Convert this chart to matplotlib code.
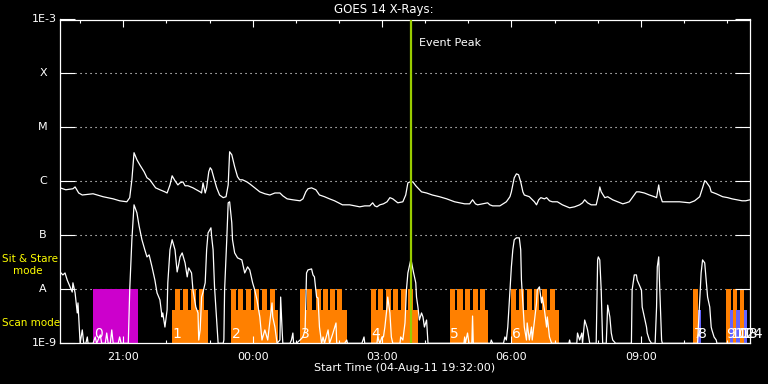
import matplotlib
matplotlib.use("Agg")
import matplotlib.pyplot as plt
from matplotlib.transforms import blended_transform_factory

# ---------------- data (time = minutes after 04-Aug-11 19:32) ----------------
long_t = [0, 8, 18, 21, 26, 31, 46, 60, 74, 83, 93, 97, 100, 103, 107, 111, 117, 121, 125, 129,
          133, 139, 146, 149, 153, 156, 160, 164, 167, 171, 174, 178, 185, 195, 197, 199, 202, 204,
          207, 209, 211, 214, 218, 222, 227, 231, 234, 236, 239, 243, 247, 250, 254, 260, 264, 271,
          278, 285, 292, 299, 306, 310, 316, 324, 334, 338, 342, 345, 350, 356, 361, 368, 375, 382,
          393, 403, 417, 424, 431, 435, 438, 441, 445, 450, 455, 459, 463, 470, 477, 481, 484, 487,
          491, 495, 503, 510, 518, 528, 538, 549, 556, 563, 570, 574, 578, 581, 588, 595, 598, 602,
          612, 621, 626, 628, 632, 635, 638, 641, 644, 646, 653, 660, 663, 666, 669, 674, 677, 681,
          685, 692, 699, 709, 716, 723, 727, 730, 734, 739, 746, 749, 751, 753, 758, 762, 769, 776,
          783, 788, 792, 798, 802, 806, 813, 820, 827, 830, 833, 835, 838, 848, 862, 876, 883, 890,
          894, 897, 899, 904, 906, 913, 922, 929, 935, 942, 949, 954, 960]
long_flux = [7.6e-7, 7.0e-7, 7.3e-7, 7.9e-7, 6.1e-7, 5.6e-7, 5.9e-7, 5.2e-7, 4.75e-7, 4.37e-7,
             4.19e-7, 5.0e-7, 1.07e-6, 3.4e-6, 2.52e-6, 2.03e-6, 1.51e-6, 1.17e-6, 1.07e-6, 9.0e-7,
             7.6e-7, 7.0e-7, 6.4e-7, 6.1e-7, 8.6e-7, 1.27e-6, 1.03e-6, 8.6e-7, 9.4e-7, 9.8e-7,
             8.3e-7, 8.3e-7, 7.6e-7, 6.4e-7, 6.1e-7, 9.4e-7, 6.1e-7, 7.6e-7, 1.51e-6, 1.79e-6,
             1.64e-6, 1.17e-6, 7.6e-7, 5.6e-7, 5.0e-7, 5.2e-7, 8.6e-7, 3.54e-6, 3.12e-6, 1.87e-6,
             1.22e-6, 1.07e-6, 1.07e-6, 9.8e-7, 9.0e-7, 7.6e-7, 6.4e-7, 5.9e-7, 5.6e-7, 6.1e-7,
             6.1e-7, 5.4e-7, 4.75e-7, 4.56e-7, 4.37e-7, 4.75e-7, 6.4e-7, 7.3e-7, 7.6e-7, 7.0e-7,
             5.6e-7, 5.2e-7, 4.75e-7, 4.37e-7, 3.68e-7, 3.68e-7, 3.38e-7, 3.52e-7, 3.52e-7, 4.01e-7,
             3.52e-7, 3.38e-7, 3.68e-7, 3.84e-7, 4.19e-7, 5.0e-7, 4.75e-7, 4.01e-7, 4.19e-7, 5.6e-7,
             9.4e-7, 9.8e-7, 9.8e-7, 8.3e-7, 6.4e-7, 6.1e-7, 5.6e-7, 5.2e-7, 4.75e-7, 4.19e-7,
             4.01e-7, 3.84e-7, 3.84e-7, 4.56e-7, 3.84e-7, 3.68e-7, 3.84e-7, 4.01e-7, 3.68e-7, 3.52e-7,
             3.52e-7, 4.19e-7, 5.2e-7, 6.4e-7, 1.17e-6, 1.38e-6, 1.33e-6, 9.8e-7, 6.4e-7, 5.6e-7,
             5.2e-7, 4.19e-7, 3.68e-7, 4.56e-7, 5.0e-7, 4.75e-7, 5.0e-7, 4.37e-7, 4.19e-7, 4.19e-7,
             3.68e-7, 3.24e-7, 3.38e-7, 3.68e-7, 4.01e-7, 4.56e-7, 4.01e-7, 3.68e-7, 3.68e-7, 5.4e-7,
             7.9e-7, 6.4e-7, 5.0e-7, 5.2e-7, 4.56e-7, 4.19e-7, 3.84e-7, 4.01e-7, 4.19e-7, 5.4e-7,
             6.4e-7, 6.4e-7, 6.1e-7, 5.6e-7, 5.2e-7, 5.0e-7, 8.6e-7, 5.6e-7, 4.19e-7, 4.19e-7,
             4.19e-7, 4.01e-7, 4.37e-7, 5.2e-7, 7.6e-7, 1.03e-6, 9.8e-7, 7.9e-7, 6.4e-7, 5.9e-7,
             5.2e-7, 5.0e-7, 4.75e-7, 4.56e-7, 4.37e-7, 4.37e-7, 4.56e-7]

short_t = [0, 4, 7, 10, 14, 17, 18, 21, 24, 25, 28, 31, 33, 36, 38, 39, 46, 49, 51, 56, 58, 63, 65,
           67, 70, 72, 74, 81, 83, 85, 95, 97, 100, 103, 107, 110, 114, 118, 121, 124, 128, 132,
           135, 139, 142, 143, 146, 149, 150, 153, 156, 160, 163, 165, 167, 170, 174, 177, 179, 183,
           185, 189, 192, 193, 195, 197, 199, 202, 204, 206, 210, 211, 213, 215, 218, 220, 227, 228,
           229, 232, 234, 236, 239, 240, 243, 247, 253, 257, 261, 264, 268, 271, 274, 278, 281, 285,
           289, 295, 296, 299, 302, 306, 307, 309, 310, 320, 322, 324, 325, 329, 334, 338, 341, 343,
           345, 350, 352, 354, 357, 359, 361, 364, 366, 368, 373, 375, 379, 384, 385, 396, 399, 400,
           420, 423, 424, 441, 442, 445, 448, 450, 452, 455, 456, 459, 461, 463, 473, 474, 477, 480,
           482, 484, 488, 489, 492, 495, 496, 498, 500, 503, 505, 507, 510, 512, 562, 563, 564, 567,
           569, 573, 574, 575, 599, 600, 602, 617, 619, 621, 623, 626, 628, 630, 632, 635, 639, 641,
           642, 644, 646, 649, 650, 653, 656, 657, 663, 664, 667, 670, 671, 674, 677, 678, 681, 684,
           708, 709, 710, 719, 720, 723, 726, 727, 730, 733, 734, 737, 746, 748, 749, 751, 753, 755,
           760, 762, 765, 767, 769, 773, 795, 796, 799, 802, 803, 809, 810, 813, 816, 817, 820, 823,
           828, 830, 831, 833, 834, 837, 838, 887, 890, 892, 894, 897, 899, 901, 904, 906, 907, 910,
           913, 914, 945]
short_flux = [2.10e-8, 1.85e-8, 2.01e-8, 1.49e-8, 1.11e-8, 8.9e-9, 1.32e-8, 8.6e-9, 3.65e-9, 5.6e-9,
              1e-9, 1.77e-9, 1e-9, 1e-9, 1.31e-9, 1e-9, 1e-9, 1.31e-9, 1e-9, 1.43e-9, 1e-9, 1e-9,
              1.55e-9, 1e-9, 1e-9, 1.77e-9, 1e-9, 1e-9, 1.31e-9, 1e-9, 1e-9, 9.7e-9, 8.3e-8, 3.68e-7,
              2.62e-7, 1.50e-7, 8.3e-8, 5.4e-8, 3.99e-8, 4.35e-8, 2.61e-8, 1.49e-8, 8.6e-9, 6.4e-9,
              3.08e-9, 3.65e-9, 2.0e-9, 4.15e-9, 1.32e-8, 5.4e-8, 8.3e-8, 5.4e-8, 2.10e-8, 2.84e-8,
              3.99e-8, 4.73e-8, 3.09e-8, 1.70e-8, 2.49e-8, 2.01e-8, 9.7e-9, 4.7e-9, 3.65e-9, 1.15e-9,
              1.77e-9, 7.2e-9, 8.9e-9, 1.32e-8, 5.4e-8, 1.11e-7, 1.38e-7, 9.4e-8, 5.4e-8, 1.11e-8,
              2.70e-9, 1e-9, 1e-9, 1.15e-9, 9.7e-9, 8.3e-8, 4.01e-7, 4.19e-7, 1.71e-7, 8.3e-8, 4.73e-8,
              3.83e-8, 3.51e-8, 2.01e-8, 2.61e-8, 2.29e-8, 1.32e-8, 9.7e-9, 6.4e-9, 3.08e-9, 1.15e-9,
              1.77e-9, 1.15e-9, 5.6e-9, 3.08e-9, 2.0e-9, 1e-9, 1.15e-9, 7.2e-9, 1.77e-9, 1e-9, 1e-9,
              1.15e-9, 1.55e-9, 1e-9, 1e-9, 1.15e-9, 1.31e-9, 1.77e-9, 2.01e-8, 2.29e-8, 2.39e-8,
              1.85e-8, 1.70e-8, 7.2e-9, 6.9e-9, 2.0e-9, 1e-9, 1.31e-9, 1e-9, 1.77e-9, 1e-9, 1.43e-9,
              2.38e-9, 1e-9, 1e-9, 1.15e-9, 1e-9, 1e-9, 1.31e-9, 1e-9, 1e-9, 1.31e-9, 1e-9, 1.31e-9,
              1.31e-9, 2.0e-9, 4.7e-9, 7.2e-9, 3.65e-9, 1.31e-9, 1e-9, 1e-9, 1.31e-9, 1.15e-9,
              2.38e-9, 9.7e-9, 2.01e-8, 3.51e-8, 3.22e-8, 2.01e-8, 1.32e-8, 7.2e-9, 4.7e-9, 2.70e-9,
              3.65e-9, 3.08e-9, 2.0e-9, 2.70e-9, 1e-9, 1e-9, 1.31e-9, 1e-9, 1.55e-9, 1e-9, 1e-9,
              3.2e-9, 1e-9, 1e-9, 1.15e-9, 1e-9, 1e-9, 1.31e-9, 1.15e-9, 2.0e-9, 9.7e-9, 2.61e-8,
              5.4e-8, 8.3e-8, 9.0e-8, 9.0e-8, 5.4e-8, 1.49e-8, 5.6e-9, 2.0e-9, 1.15e-9, 2.38e-9,
              1.15e-9, 2.0e-9, 1.15e-9, 5.6e-9, 9.7e-9, 1.11e-8, 5.6e-9, 7.2e-9, 4.15e-9, 2.0e-9,
              3.08e-9, 1.31e-9, 1e-9, 1e-9, 1.15e-9, 1e-9, 1e-9, 1.55e-9, 1.15e-9, 1.55e-9, 1e-9,
              2.70e-9, 2.0e-9, 1.77e-9, 1e-9, 1e-9, 3.51e-8, 3.99e-8, 3.51e-8, 9.7e-9, 1e-9, 1e-9,
              5.1e-9, 3.08e-9, 1.55e-9, 1.15e-9, 1e-9, 1e-9, 9.7e-9, 1.85e-8, 1.85e-8, 1.49e-8,
              9.7e-9, 4.7e-9, 3.08e-9, 2.0e-9, 1.55e-9, 1.15e-9, 1e-9, 1e-9, 4.7e-9, 2.61e-8,
              3.99e-8, 1.49e-8, 1.15e-9, 1e-9, 1e-9, 6.4e-9, 2.01e-8, 3.51e-8, 3.09e-8, 1.49e-8,
              7.2e-9, 4.7e-9, 2.0e-9, 1.77e-9, 1.31e-9, 1.15e-9, 1e-9, 1e-9]

# Sit & stare observation (magenta)
stare_ids = ["0"]
stare_start = [46]
stare_end = [108]

# Scan-mode blocks (orange): block extent and the start of each tall raster
scan_ids = ["1", "2", "3", "4", "5", "6"]
scan_start = [156, 238, 334, 432, 542, 628]
scan_end = [206, 303, 399, 498, 596, 694]
scan_teeth = [[160, 171, 182, 193],
              [238, 248, 259, 270, 281, 292],
              [334, 344, 356, 366, 376, 386],
              [432, 442, 453, 463, 474, 484],
              [542, 553, 563, 574, 584],
              [628, 639, 650, 660, 671, 682]]
tooth_len = 7

# Later short observations
obs_ids = ["7", "8", "9", "10", "11", "12", "13", "14"]
obs_start = [881, 887, 926, 932, 937, 941, 946, 952]
obs_end = [887, 892, 933, 936, 942, 946, 952, 956]
obs_kind = ["tall", "short", "tall", "short", "tall", "short", "tall", "short"]

level_low = 1e-9
level_short = 4.15e-9
level_tall = 1e-8

event_peak = 488  # 03:40
tick_pos = [88, 268, 448, 628, 808]
tick_lab = ["21:00", "00:00", "03:00", "06:00", "09:00"]
minor_pos = [28 + 60 * k for k in range(16)]
decades = [1e-9, 1e-8, 1e-7, 1e-6, 1e-5, 1e-4, 1e-3]
decade_lab = ["1E-9", "A", "B", "C", "M", "X", "1E-3"]

# ---------------- plot ----------------
ORANGE = "#ff8000"
MAGENTA = "#cc00cc"
BLUE = "#6464ff"
YELLOW = "#ffff00"
EVENT = "#99cc00"
W, H = 768, 384

fig = plt.figure(figsize=(7.68, 3.84), dpi=100, facecolor="black")
ax = fig.add_axes([60 / W, 1 - 343.3 / H, 690 / W, 323.8 / H])
ax.set_facecolor("black")
ax.set_yscale("log")
ax.set_xlim(0, 960)
ax.set_ylim(1e-9, 1e-3)

# grid (dotted) at class levels
for v in decades[1:-1]:
    ax.axhline(v, color="white", lw=0.8, ls=(0, (1, 3.5)), zorder=0.5)

# bars
for s, e in zip(stare_start, stare_end):
    ax.bar(s, level_tall - level_low, width=e - s, bottom=level_low, align="edge",
           color=MAGENTA, lw=0, zorder=1)
for s, e, teeth in zip(scan_start, scan_end, scan_teeth):
    ax.bar(s, level_short - level_low, width=e - s, bottom=level_low, align="edge",
           color=ORANGE, lw=0, zorder=1)
    for t0 in teeth:
        ax.bar(t0, level_tall - level_low, width=tooth_len, bottom=level_low, align="edge",
               color=ORANGE, lw=0, zorder=1)
for s, e, k in zip(obs_start, obs_end, obs_kind):
    top = level_tall if k == "tall" else level_short
    ax.bar(s, top - level_low, width=e - s, bottom=level_low, align="edge",
           color=ORANGE if k == "tall" else BLUE, lw=0, zorder=1)

# observation numbers
tb = blended_transform_factory(ax.transData, ax.transAxes)
for lab, s in zip(stare_ids + scan_ids + obs_ids, stare_start + scan_start + obs_start):
    ax.text(s + 1, 0.016, lab, transform=tb, color="white", fontsize=10,
            ha="left", va="baseline", zorder=2)

# curves
ax.plot(long_t, long_flux, color="white", lw=0.9, zorder=3)
ax.plot(short_t, short_flux, color="white", lw=0.9, zorder=3)

# event peak
ax.axvline(event_peak, color=EVENT, lw=1.6, zorder=5)
ax.text(500, 0.927, "Event Peak", transform=tb, color="white", fontsize=8,
        ha="left", va="center")

# axes styling
for sp in ax.spines.values():
    sp.set_color("white")
    sp.set_linewidth(0.9)
ax.set_yticks(decades)
ax.yaxis.set_minor_locator(matplotlib.ticker.NullLocator())
ax.tick_params(axis="y", which="major", direction="in", length=10.8, width=0.8,
               color="white", left=True, right=True, labelleft=False)
ax.set_xticks(tick_pos)
ax.set_xticklabels(tick_lab)
ax.set_xticks(minor_pos, minor=True)
ax.tick_params(axis="x", which="major", direction="in", length=5, width=0.8, color="white",
               top=True, bottom=True, labelcolor="white", labelsize=8, pad=6)
ax.tick_params(axis="x", which="minor", direction="in", length=2.5, width=0.8, color="white",
               top=True, bottom=True)

# y labels
ty = blended_transform_factory(fig.transFigure, ax.transData)
for v, lab in zip(decades, decade_lab):
    if lab.startswith("1E"):
        fig.text(57 / W, v, lab, transform=ty, color="white", fontsize=8, ha="right", va="center")
    else:
        fig.text(43 / W, v, lab, transform=ty, color="white", fontsize=8, ha="center", va="center")

# titles and side notes
fig.text(384 / W, 1 - 10 / H, "GOES 14 X-Rays:", color="white", fontsize=8.5, ha="center", va="center")
fig.text(405 / W, 1 - 368 / H, "Start Time (04-Aug-11 19:32:00)", color="white", fontsize=8,
         ha="center", va="center")
fig.text(2 / W, 1 - 259 / H, "Sit & Stare", color=YELLOW, fontsize=7.5, ha="left", va="center")
fig.text(13 / W, 1 - 271 / H, "mode", color=YELLOW, fontsize=7.5, ha="left", va="center")
fig.text(2 / W, 1 - 323 / H, "Scan mode", color=YELLOW, fontsize=7.5, ha="left", va="center")

fig.savefig("out.png", dpi=100, facecolor="black")
